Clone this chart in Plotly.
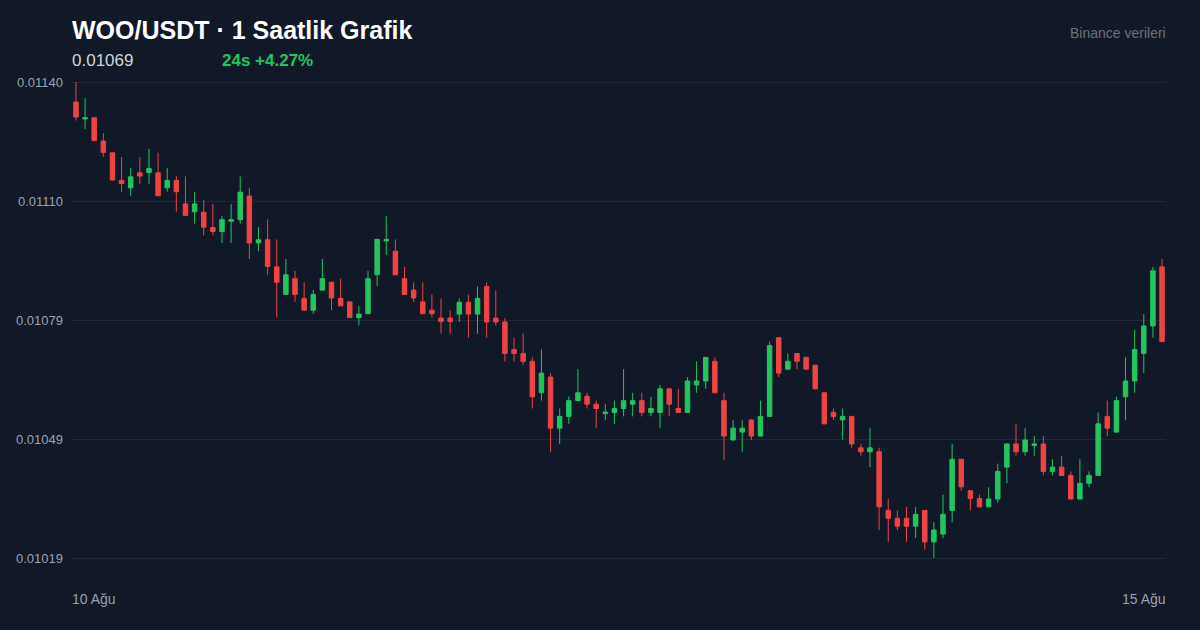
import pandas as pd
import plotly.graph_objs as go


# WOO/USDT hourly candles
opens = [
    0.011347, 0.011304, 0.011307, 0.011248, 0.011218, 0.011148, 0.011129, 0.011167, 0.011168, 0.011167,
    0.011129, 0.011148, 0.011088, 0.011068, 0.011067, 0.011028, 0.011018, 0.011044, 0.011048, 0.011108,
    0.010989, 0.010997, 0.010928, 0.010858, 0.010898, 0.010848, 0.010818, 0.010869, 0.010889, 0.010848,
    0.010839, 0.010799, 0.010809, 0.010908, 0.010994, 0.010968, 0.010898, 0.010869, 0.010839, 0.010818,
    0.010798, 0.010798, 0.010808, 0.010838, 0.010808, 0.010878, 0.010798, 0.010788, 0.010718, 0.010708,
    0.010688, 0.010608, 0.010648, 0.010518, 0.010548, 0.010588, 0.010599, 0.010579, 0.010555, 0.010558,
    0.010568, 0.010579, 0.010588, 0.010558, 0.010558, 0.010618, 0.010568, 0.010558, 0.010628, 0.010638,
    0.010688, 0.010588, 0.010488, 0.010508, 0.010539, 0.010498, 0.010548, 0.010748, 0.010668, 0.010708,
    0.010698, 0.010678, 0.010608, 0.010558, 0.010539, 0.010548, 0.010468, 0.010458, 0.010458, 0.010309,
    0.010289, 0.010289, 0.010269, 0.010309, 0.010229, 0.010249, 0.010309, 0.010439, 0.010359, 0.010339,
    0.010318, 0.010338, 0.010419, 0.010478, 0.010458, 0.010474, 0.010478, 0.010408, 0.010419, 0.010398,
    0.010338, 0.010378, 0.010398, 0.010548, 0.010508, 0.010598, 0.010638, 0.010708, 0.010778, 0.010928,
]
highs = [
    0.011398, 0.011357, 0.011308, 0.011268, 0.011219, 0.011207, 0.011179, 0.011207, 0.011228, 0.011218,
    0.011179, 0.011158, 0.011158, 0.011118, 0.011098, 0.011088, 0.011058, 0.011088, 0.011158, 0.011129,
    0.011029, 0.011049, 0.010998, 0.010948, 0.010918, 0.010889, 0.010869, 0.010948, 0.010890, 0.010898,
    0.010840, 0.010829, 0.010918, 0.010999, 0.011058, 0.010998, 0.010928, 0.010889, 0.010889, 0.010858,
    0.010848, 0.010818, 0.010848, 0.010858, 0.010878, 0.010888, 0.010868, 0.010798, 0.010748, 0.010758,
    0.010698, 0.010718, 0.010658, 0.010568, 0.010599, 0.010668, 0.010608, 0.010588, 0.010579, 0.010588,
    0.010668, 0.010608, 0.010608, 0.010598, 0.010628, 0.010619, 0.010618, 0.010648, 0.010688, 0.010699,
    0.010698, 0.010608, 0.010539, 0.010539, 0.010540, 0.010588, 0.010738, 0.010749, 0.010708, 0.010709,
    0.010699, 0.010679, 0.010609, 0.010568, 0.010568, 0.010549, 0.010478, 0.010518, 0.010468, 0.010339,
    0.010309, 0.010318, 0.010318, 0.010310, 0.010279, 0.010349, 0.010478, 0.010440, 0.010360, 0.010349,
    0.010368, 0.010428, 0.010479, 0.010529, 0.010518, 0.010498, 0.010498, 0.010439, 0.010448, 0.010408,
    0.010439, 0.010408, 0.010558, 0.010588, 0.010598, 0.010698, 0.010768, 0.010808, 0.010928, 0.010948,
]
lows = [
    0.011300, 0.011278, 0.011248, 0.011208, 0.011148, 0.011119, 0.011109, 0.011139, 0.011139, 0.011108,
    0.011119, 0.011068, 0.011058, 0.011038, 0.011008, 0.011008, 0.010989, 0.010989, 0.011038, 0.010948,
    0.010968, 0.010908, 0.010799, 0.010857, 0.010839, 0.010817, 0.010809, 0.010868, 0.010818, 0.010828,
    0.010798, 0.010779, 0.010808, 0.010879, 0.010958, 0.010907, 0.010857, 0.010839, 0.010808, 0.010799,
    0.010758, 0.010758, 0.010788, 0.010748, 0.010758, 0.010748, 0.010778, 0.010688, 0.010688, 0.010678,
    0.010568, 0.010588, 0.010458, 0.010478, 0.010529, 0.010587, 0.010568, 0.010518, 0.010538, 0.010529,
    0.010548, 0.010548, 0.010548, 0.010548, 0.010518, 0.010548, 0.010557, 0.010557, 0.010608, 0.010618,
    0.010607, 0.010438, 0.010487, 0.010458, 0.010488, 0.010497, 0.010547, 0.010648, 0.010667, 0.010668,
    0.010667, 0.010617, 0.010528, 0.010539, 0.010489, 0.010468, 0.010448, 0.010419, 0.010259, 0.010229,
    0.010259, 0.010229, 0.010239, 0.010209, 0.010188, 0.010239, 0.010279, 0.010359, 0.010309, 0.010317,
    0.010317, 0.010329, 0.010378, 0.010448, 0.010448, 0.010448, 0.010398, 0.010398, 0.010397, 0.010337,
    0.010337, 0.010368, 0.010397, 0.010498, 0.010507, 0.010538, 0.010608, 0.010658, 0.010748, 0.010737,
]
closes = [
    0.011309, 0.011307, 0.011249, 0.011219, 0.011149, 0.011140, 0.011157, 0.011159, 0.011178, 0.011109,
    0.011148, 0.011119, 0.011059, 0.011088, 0.011029, 0.011018, 0.011048, 0.011048, 0.011118, 0.010989,
    0.010997, 0.010929, 0.010889, 0.010908, 0.010858, 0.010818, 0.010858, 0.010898, 0.010849, 0.010829,
    0.010799, 0.010808, 0.010898, 0.010998, 0.010998, 0.010908, 0.010858, 0.010849, 0.010809, 0.010809,
    0.010789, 0.010789, 0.010838, 0.010808, 0.010848, 0.010788, 0.010788, 0.010708, 0.010708, 0.010688,
    0.010598, 0.010658, 0.010518, 0.010548, 0.010588, 0.010608, 0.010579, 0.010568, 0.010559, 0.010568,
    0.010588, 0.010588, 0.010558, 0.010568, 0.010618, 0.010579, 0.010558, 0.010638, 0.010638, 0.010698,
    0.010608, 0.010498, 0.010518, 0.010518, 0.010498, 0.010548, 0.010728, 0.010658, 0.010688, 0.010688,
    0.010668, 0.010618, 0.010529, 0.010548, 0.010548, 0.010478, 0.010458, 0.010468, 0.010318, 0.010289,
    0.010269, 0.010269, 0.010299, 0.010229, 0.010259, 0.010299, 0.010439, 0.010369, 0.010339, 0.010318,
    0.010338, 0.010408, 0.010478, 0.010458, 0.010488, 0.010478, 0.010408, 0.010419, 0.010398, 0.010338,
    0.010378, 0.010398, 0.010529, 0.010518, 0.010588, 0.010638, 0.010718, 0.010778, 0.010918, 0.010738,
]

y_ticks = [0.010188, 0.0104905, 0.010793, 0.0110955, 0.011398]
y_tick_labels = ['0.01019', '0.01049', '0.01079', '0.01110', '0.01140']
date_labels = ['10 Ağu', '15 Ağu']

title_text = 'WOO/USDT · 1 Saatlik Grafik'
last_price_text = '0.01069'
change_text = '24s +4.27%'
source_text = 'Binance verileri'

BG = '#111827'
GRID = '#1f2937'
UP = '#22c55e'
DOWN = '#ef4444'
FONT = 'Liberation Sans, Arial, sans-serif'

times = pd.date_range('2025-08-10 03:00', periods=len(closes), freq='h')

fig = go.Figure()

fig.add_trace(go.Candlestick(
    x=times,
    open=opens,
    high=highs,
    low=lows,
    close=closes,
    increasing=dict(line=dict(color=UP, width=1), fillcolor=UP),
    decreasing=dict(line=dict(color=DOWN, width=1), fillcolor=DOWN),
    whiskerwidth=0,
    showlegend=False,
))

# half a candle of padding on both sides
pad = pd.Timedelta(minutes=26)

fig.update_layout(
    width=1200,
    height=630,
    paper_bgcolor=BG,
    plot_bgcolor=BG,
    margin=dict(l=72, r=34, t=75, b=65),
    font=dict(family=FONT, color='#9ca3af', size=13),
    xaxis=dict(
        range=[times[0] - pad, times[-1] + pad],
        showgrid=False,
        zeroline=False,
        showticklabels=False,
        rangeslider=dict(visible=False),
    ),
    yaxis=dict(
        range=[0.0101702, 0.0114158],
        tickvals=y_ticks,
        ticktext=y_tick_labels,
        gridcolor=GRID,
        gridwidth=1,
        zeroline=False,
        ticks='',
        ticklabelstandoff=8,
        tickfont=dict(size=13, color='#9ca3af'),
    ),
)

# header texts
fig.add_annotation(text='<b>' + title_text + '</b>', xref='paper', yref='paper',
                   x=0.0, y=1.0, xanchor='left', yanchor='middle', yshift=45, xshift=-2,
                   showarrow=False, font=dict(size=25, color='#ffffff', family=FONT))
fig.add_annotation(text=last_price_text, xref='paper', yref='paper',
                   x=0.0, y=1.0, xanchor='left', yanchor='middle', yshift=15, xshift=-2,
                   showarrow=False, font=dict(size=17, color='#d1d5db', family=FONT))
fig.add_annotation(text='<b>' + change_text + '</b>', xref='paper', yref='paper',
                   x=(222 - 72) / 1094, y=1.0, xanchor='left', yanchor='middle', yshift=15, xshift=-2,
                   showarrow=False, font=dict(size=17, color=UP, family=FONT))
fig.add_annotation(text=source_text, xref='paper', yref='paper',
                   x=1.0, y=1.0, xanchor='right', yanchor='middle', yshift=42, xshift=2,
                   showarrow=False, font=dict(size=14, color='#6b7280', family=FONT))

# first and last date under the chart
fig.add_annotation(text=date_labels[0], xref='paper', yref='paper',
                   x=0.0, y=0.0, xanchor='left', yanchor='middle', yshift=-34, xshift=-2,
                   showarrow=False, font=dict(size=14, color='#9ca3af', family=FONT))
fig.add_annotation(text=date_labels[1], xref='paper', yref='paper',
                   x=1.0, y=0.0, xanchor='right', yanchor='middle', yshift=-34, xshift=2,
                   showarrow=False, font=dict(size=14, color='#9ca3af', family=FONT))

# drop the page margin so the figure sits at the window corner
fig.write_html('out.html', config={'displayModeBar': False},
               post_script="document.body.style.margin='0';document.body.style.background='" + BG + "';")
